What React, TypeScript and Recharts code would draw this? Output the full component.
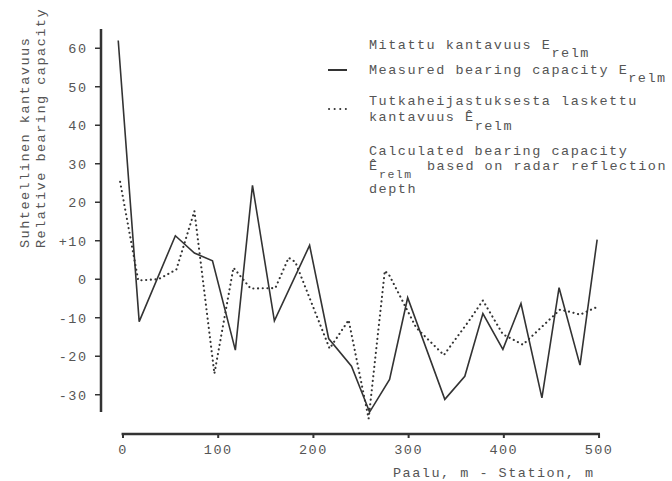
import React from 'react';
import { LineChart, Line, XAxis, YAxis, Legend, ReferenceLine } from 'recharts';

// station ticks (m) and relative bearing capacity ticks
const stationTicks = [0, 100, 200, 300, 400, 500];
const capacityTicks = [-30, -20, -10, 0, 10, 20, 30, 40, 50, 60];

// measured bearing capacity E_relm (solid)
const measuredStation = [-5, 17, 55, 75, 94, 118, 136, 159, 196, 216, 240, 259, 280, 299, 338, 359, 378, 399, 418, 440, 458, 480, 498];
const measuredValue = [62, -11, 11.3, 6.8, 4.8, -18.4, 24.4, -10.8, 8.8, -15.4, -22.6, -34.5, -26, -4.8, -31.2, -25.2, -8.9, -18.2, -6.3, -30.8, -2.2, -22.3, 10.3];

// calculated from radar reflection depth (dotted)
const calculatedStation = [-3, 16, 37, 56, 75, 96, 116, 134, 160, 174, 181, 217, 237, 258, 275, 280, 308, 337, 364, 378, 399, 420, 459, 470, 480, 498];
const calculatedValue = [25.3, -0.3, 0, 2.5, 17.7, -24.5, 3.0, -2.4, -2.3, 5.6, 4.5, -18, -10.6, -36.2, 2.2, 0.9, -12.6, -19.7, -10.6, -5.5, -14.3, -17, -7.9, -8.5, -9.2, -7.2];

const measured = measuredStation.map((x, i) => ({ x, y: measuredValue[i] }));
const calculated = calculatedStation.map((x, i) => ({ x, y: calculatedValue[i] }));

const ink = '#555';
const lineInk = '#333';

const YTitle = () => (
  <g fill={ink}>
    <text x={29} y={248} transform="rotate(-90 29 248)">Suhteellinen kantavuus</text>
    <text x={45} y={248} transform="rotate(-90 45 248)">Relative bearing capacity</text>
  </g>
);

const XTitle = () => (
  <text x={393} y={477} fill={ink}>Paalu, m - Station, m</text>
);

const LegendBox = () => (
  <svg width={672} height={200} style={{ display: 'block' }}>
    <line x1={328} x2={347} y1={70} y2={70} stroke={lineInk} strokeWidth={2} />
    <line x1={329} x2={350} y1={109} y2={109} stroke={lineInk} strokeWidth={2} strokeDasharray="0.1 5.5" strokeLinecap="round" />
    <g fill={ink}>
      <text x={369} y={49}>Mitattu kantavuus E<tspan dy={8}>relm</tspan></text>
      <text x={369} y={74}>Measured bearing capacity E<tspan dy={7.5}>relm</tspan></text>
      <text x={369} y={105}>Tutkaheijastuksesta laskettu</text>
      <text x={369} y={121}>kantavuus Ê<tspan dy={9}>relm</tspan></text>
      <text x={369} y={155}>Calculated bearing capacity</text>
      <text x={369} y={170}>Ê</text>
      <text x={427} y={170}>based on radar reflection</text>
      <text x={379} y={177.5} fontSize={11.5}>relm</text>
      <text x={369} y={193}>depth</text>
    </g>
  </svg>
);

export default function App() {
  return (
    <div style={{ position: 'absolute', left: 0, top: 0 }}>
      <LineChart
        width={672}
        height={481}
        margin={{ top: 29, right: 72, bottom: 17, left: 0 }}
        style={{ fontFamily: '"Liberation Mono", "DejaVu Sans Mono", monospace', fontSize: 13.5, letterSpacing: 1.5 }}
      >
        <XAxis
          type="number"
          dataKey="x"
          domain={[-23.1, 501]}
          ticks={stationTicks}
          allowDataOverflow
          axisLine={false}
          tickLine={{ stroke: lineInk, strokeWidth: 2 }}
          tickSize={4}
          tickMargin={6}
          tick={{ fill: ink }}
          height={30}
          label={XTitle}
        />
        <YAxis
          type="number"
          dataKey="y"
          domain={[-40.2, 65]}
          ticks={capacityTicks}
          allowDataOverflow
          axisLine={false}
          tickLine={{ stroke: lineInk, strokeWidth: 1.5 }}
          tickSize={6}
          tickMargin={7.5}
          tick={{ fill: ink }}
          tickFormatter={(v: number) => (v === 10 ? '+10' : String(v))}
          width={101}
          label={YTitle}
        />
        <ReferenceLine
          segment={[{ x: -23.1, y: -34.5 }, { x: -23.1, y: 65 }]}
          stroke={lineInk}
          strokeWidth={2.5}
          ifOverflow="visible"
        />
        <ReferenceLine
          segment={[{ x: -1.5, y: -40.2 }, { x: 501, y: -40.2 }]}
          stroke={lineInk}
          strokeWidth={2.5}
          ifOverflow="visible"
        />
        <Legend
          verticalAlign="middle"
          layout="horizontal"
          align="center"
          wrapperStyle={{ left: 0, top: 0, width: 672, height: 200 }}
          content={LegendBox}
        />
        <Line
          data={measured}
          dataKey="y"
          type="linear"
          stroke={lineInk}
          strokeWidth={1.6}
          dot={false}
          isAnimationActive={false}
        />
        <Line
          data={calculated}
          dataKey="y"
          type="linear"
          stroke={lineInk}
          strokeWidth={2.1}
          strokeDasharray="0.1 4.6"
          strokeLinecap="round"
          dot={false}
          isAnimationActive={false}
        />
      </LineChart>
    </div>
  );
}
